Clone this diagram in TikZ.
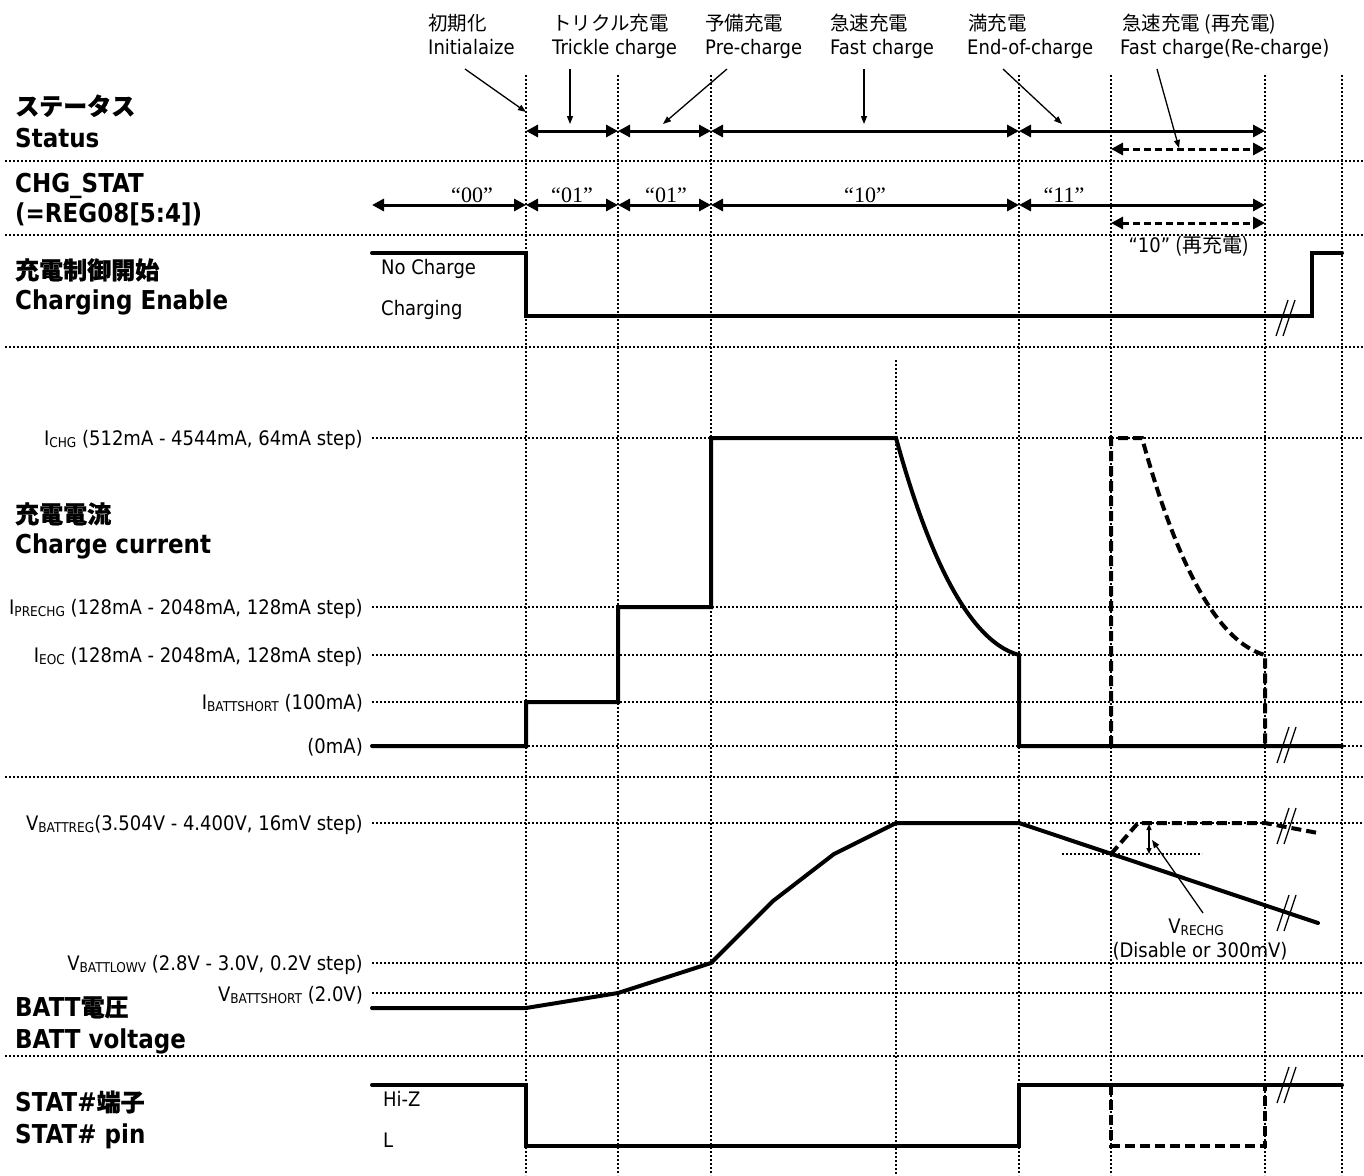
\documentclass[tikz,border=0pt]{standalone}
\usepackage{fontspec}
\setmainfont[FakeStretch=0.885]{DejaVu Sans}
\newfontfamily\smf[FakeStretch=0.9]{DejaVu Sans}
\newfontfamily\jp{Noto Sans CJK JP}
\newfontfamily\jpb[FakeBold=0.8]{Noto Sans CJK JP}
\newfontfamily\qf{Liberation Serif}
\usetikzlibrary{arrows.meta}
\newcommand\subx[1]{\raisebox{-2.5pt}{\fontsize{13.5}{13}\selectfont #1}}
\newcommand\brkmark[2]{\draw[brk] (#1-10,#2+18) -- (#1+2,#2-18) (#1-3,#2+18) -- (#1+9,#2-18);}
\tikzset{
  grid/.style={line width=1.5pt, dash pattern=on 2pt off 2pt},
  wave/.style={line width=4pt, line cap=round, line join=miter},
  wavedash/.style={line width=4pt, dash pattern=on 10pt off 5pt},
  span/.style={line width=3pt, {Triangle[length=12pt,width=12pt]}-{Triangle[length=12pt,width=12pt]}},
  spandash/.style={span, dash pattern=on 7pt off 4pt},
  ptr/.style={line width=1.3pt, -{Triangle[length=8pt,width=6pt]}},
  dim/.style={line width=1.3pt, {Triangle[length=6pt,width=5pt]}-{Triangle[length=6pt,width=5pt]}},
  brk/.style={line width=1.3pt},
  big/.style={font=\fontsize{26}{30}\selectfont\bfseries, anchor=base west, inner sep=0pt},
  bigjp/.style={font=\fontsize{24}{30}\selectfont\jpb\bfseries, anchor=base west, inner sep=0pt},
  sm/.style={font=\fontsize{20}{24}\selectfont\smf, inner sep=0pt},
  lvl/.style={sm, anchor=base east},
  topen/.style={sm, anchor=base west},
  topjp/.style={font=\fontsize{19.5}{24}\selectfont\jp, anchor=base west, inner sep=0pt},
  quote/.style={font=\fontsize{22}{24}\selectfont\qf, anchor=base, inner sep=0pt},
}
\begin{document}
\begin{tikzpicture}[x=1pt,y=-1pt]
\useasboundingbox (0,0) rectangle (1364,1175);
% ---------- grid ----------
\foreach \x in {526,618,711,1019,1111,1265,1342} \draw[grid] (\x,75) -- (\x,1175);
\draw[grid] (896,360) -- (896,1175);
\foreach \y in {161,235,347,777,1056} \draw[grid] (5,\y) -- (1364,\y);
\foreach \y in {438,607,655,702,746,823,963,993} \draw[grid] (372,\y) -- (1364,\y);
\draw[grid] (1062,854) -- (1202,854);

% ---------- top labels ----------
\node[topjp] (j1) at (428,30) {初期化};
\node[topen] (e1) at (428,54) {Initialaize};
\node[topjp] (j2) at (552,30) {トリクル充電};
\node[topen] (e2) at (552,54) {Trickle charge};
\node[topjp] (j3) at (705,30) {予備充電};
\node[topen] (e3) at (705,54) {Pre-charge};
\node[topjp] (j4) at (830,30) {急速充電};
\node[topen] (e4) at (830,54) {Fast charge};
\node[topjp] (j5) at (968,30) {満充電};
\node[topen] (e5) at (967,54) {End-of-charge};
\node[topjp] (j6) at (1122,30) {急速充電 (再充電)};
\node[topen] (e6) at (1120,54) {Fast charge(Re-charge)};

\coordinate (a1s) at (465,69);  \coordinate (a1e) at (526,112);
\coordinate (a2s) at (570,69);  \coordinate (a2e) at (570,124);
\coordinate (a3s) at (727,69);  \coordinate (a3e) at (663,124);
\coordinate (a4s) at (864,69);  \coordinate (a4e) at (864,124);
\coordinate (a5s) at (1003,69); \coordinate (a5e) at (1062,124);
\coordinate (a6s) at (1157,69); \coordinate (a6e) at (1179,148);
\foreach \i in {1,...,6} \draw[ptr] (a\i s) -- (a\i e);

% ---------- left labels ----------
\node[bigjp] (l1) at (15,115) {ステータス};
\node[big] (l1e) at (15,147) {Status};
\node[big] (l2) at (15,192) {CHG\_STAT};
\node[big] (l2e) at (15,222) {(=REG08[5:4])};
\node[bigjp] (l3) at (15,279) {充電制御開始};
\node[big] (l3e) at (15,309) {Charging Enable};
\node[bigjp] (l4) at (15,523) {充電電流};
\node[big] (l4e) at (15,553) {Charge current};
\node[big] (l5) at (15,1016) {BATT{\fontsize{24}{30}\selectfont\jpb\bfseries 電圧}};
\node[big] (l5e) at (15,1048) {BATT voltage};
\node[big] (l6) at (15,1111) {STAT\#{\fontsize{24}{30}\selectfont\jpb\bfseries 端子}};
\node[big] (l6e) at (15,1143) {STAT\# pin};

% ---------- status spans ----------
\coordinate (s0) at (526,131); \coordinate (s1) at (618,131); \coordinate (s2) at (711,131);
\coordinate (s3) at (1019,131); \coordinate (s4) at (1265,131);
\draw[span] (s0) -- (s1); \draw[span] (s1) -- (s2); \draw[span] (s2) -- (s3); \draw[span] (s3) -- (s4);
\coordinate (sr0) at (1111,149); \coordinate (sr1) at (1265,149);
\draw[spandash] (sr0) -- (sr1);

% ---------- CHG_STAT spans ----------
\coordinate (c00) at (372,205); \coordinate (c0) at (526,205); \coordinate (c1) at (618,205);
\coordinate (c2) at (711,205); \coordinate (c3) at (1019,205); \coordinate (c4) at (1265,205);
\draw[span] (c00) -- (c0); \draw[span] (c0) -- (c1); \draw[span] (c1) -- (c2);
\draw[span] (c2) -- (c3); \draw[span] (c3) -- (c4);
\coordinate (cr0) at (1111,223); \coordinate (cr1) at (1265,223);
\draw[spandash] (cr0) -- (cr1);
\node[quote] (q1) at (472,202) {“00”};
\node[quote] (q2) at (572,202) {“01”};
\node[quote] (q3) at (666,202) {“01”};
\node[quote] (q4) at (865,202) {“10”};
\node[quote] (q5) at (1064,202) {“11”};
\node[sm, anchor=base] (q6) at (1189,252) {“10” {\jp (再充電)}};

% ---------- Charging enable ----------
\draw[wave] (372,253) -- (526,253) -- (526,316) -- (1312,316) -- (1312,253) -- (1342,253);
\brkmark{1286}{318}
\node[sm, anchor=base west] (nc) at (381,274) {No Charge};
\node[sm, anchor=base west] (cg) at (381,315) {Charging};

% ---------- Charge current ----------
\node[lvl] (i1) at (363,445) {I\subx{CHG} (512mA - 4544mA, 64mA step)};
\node[lvl] (i2) at (363,614) {I\subx{PRECHG} (128mA - 2048mA, 128mA step)};
\node[lvl] (i3) at (363,662) {I\subx{EOC} (128mA - 2048mA, 128mA step)};
\node[lvl] (i4) at (363,709) {I\subx{BATTSHORT} (100mA)};
\node[lvl] (i5) at (363,753) {(0mA)};
\draw[wave] (372,746) -- (526,746) -- (526,702) -- (618,702) -- (618,607) -- (711,607)
  -- (711,438) -- (896,438) .. controls (924,540) and (964,640) .. (1019,655)
  -- (1019,746) -- (1342,746);
\draw[wavedash] (1111,746) -- (1111,438) -- (1142,438) .. controls (1170,540) and (1210,640) .. (1265,655) -- (1265,746);
\brkmark{1287}{745}

% ---------- BATT voltage ----------
\node[lvl] (v1) at (363,830) {V\subx{BATTREG}(3.504V - 4.400V, 16mV step)};
\node[lvl] (v2) at (363,970) {V\subx{BATTLOWV} (2.8V - 3.0V, 0.2V step)};
\node[lvl] (v3) at (363,1001) {V\subx{BATTSHORT} (2.0V)};
\draw[wave] (372,1008) -- (526,1008) -- (618,993) -- (711,963) -- (773,901) -- (834,854)
  -- (896,823) -- (1019,823) -- (1318,923);
\draw[wavedash] (1111,854) -- (1138,823) -- (1265,823) -- (1318,833);
\brkmark{1287}{826}
\brkmark{1287}{913}
\coordinate (r0) at (1149,824); \coordinate (r1) at (1149,854);
\draw[dim] (r0) -- (r1);
\node[sm, anchor=base] (vr) at (1196,933) {V\subx{RECHG}};
\node[sm, anchor=base] (vd) at (1200,957) {(Disable or 300mV)};
\coordinate (rp) at (1203,913); \coordinate (rq) at (1152,840);
\draw[ptr] (rp) -- (rq);

% ---------- STAT# ----------
\draw[wave] (372,1085) -- (526,1085) -- (526,1146) -- (1019,1146) -- (1019,1085) -- (1342,1085);
\draw[wavedash] (1111,1085) -- (1111,1146) -- (1265,1146) -- (1265,1085);
\brkmark{1287}{1085}
\node[sm, anchor=base west] (hz) at (383,1106) {Hi-Z};
\node[sm, anchor=base west] (lo) at (383,1147) {L};
\end{tikzpicture}
\end{document}
